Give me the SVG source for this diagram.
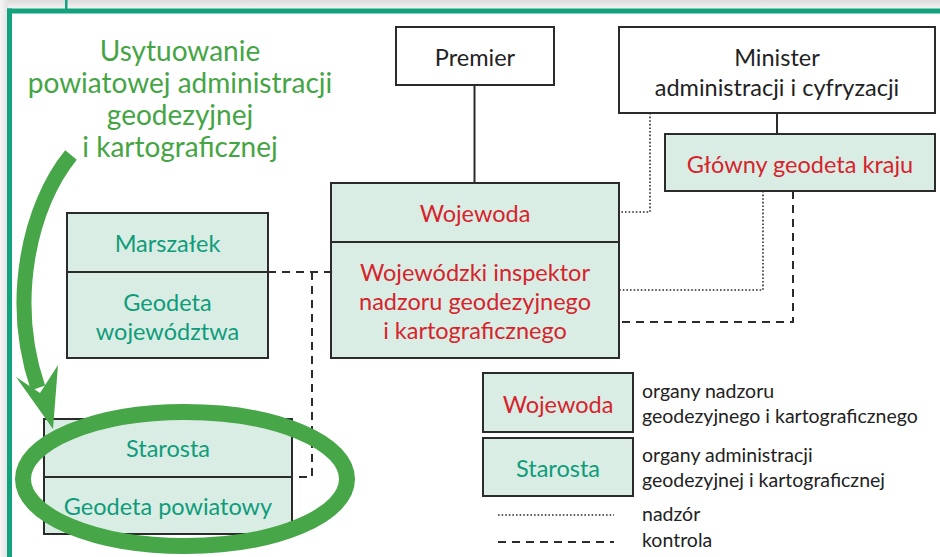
<svg xmlns="http://www.w3.org/2000/svg" width="940" height="557" viewBox="0 0 940 557">
<defs>
<linearGradient id="topg" x1="0" y1="0" x2="0" y2="1">
<stop offset="0" stop-color="#dcdcdc"/><stop offset="1" stop-color="#f4f4f4"/>
</linearGradient>
<linearGradient id="leftg" x1="0" y1="0" x2="1" y2="0">
<stop offset="0" stop-color="#f6f6f6"/><stop offset="1" stop-color="#e2e2e2"/>
</linearGradient>
<style>
text{font-family:Lato,"Noto Sans","Liberation Sans",sans-serif;text-anchor:middle}
.box{fill:#d9ede5;stroke:#2b2b2b;stroke-width:2}
.wbox{fill:#ffffff;stroke:#2b2b2b;stroke-width:2}
.div{stroke:#2b2b2b;stroke-width:2}
.red{fill:#d6232c;font-size:23.5px}
.teal{fill:#0e9c7a;font-size:23.5px}
.blk{fill:#222;font-size:23.5px}
.leg{fill:#222;font-size:19.5px;text-anchor:start}
.solid{stroke:#2b2b2b;stroke-width:2;fill:none}
.dot{stroke:#2b2b2b;stroke-width:1.6;fill:none;stroke-dasharray:1.6 2}
.dash{stroke:#2b2b2b;stroke-width:2;fill:none;stroke-dasharray:8 6}
.title{fill:#45a545;font-size:28px}
</style>
</defs>
<rect x="0" y="0" width="940" height="557" fill="#ffffff"/>
<rect x="0" y="0" width="940" height="9" fill="url(#topg)"/>
<rect x="0" y="0" width="8" height="557" fill="url(#leftg)"/>
<rect x="65" y="0" width="2.5" height="10" fill="#12a37e"/>
<rect x="7" y="8.5" width="933" height="5" fill="#12a37e"/>
<rect x="7" y="8.5" width="5" height="549" fill="#12a37e"/>

<g id="connectors">
<path class="solid" d="M474.5,85 V184"/>
<path class="solid" d="M777,112 V135"/>
<path class="dot" d="M650,113 V212 H619"/>
<path class="dot" d="M763,191 V290 H619"/>
<path class="dash" d="M793,191 V322 H619"/>
<path class="dash" d="M268,272 H331"/>
<path class="dash" d="M312,272 V477 H292"/>
</g>

<g id="premier">
<rect class="wbox" x="396" y="27" width="158" height="58"/>
<text class="blk" x="475" y="66">Premier</text>
</g>
<g id="minister">
<rect class="wbox" x="619" y="27" width="316" height="86"/>
<text class="blk" x="777" y="66">Minister</text>
<text class="blk" x="777" y="96">administracji i cyfryzacji</text>
</g>
<g id="glowny">
<rect class="box" x="665" y="134" width="270" height="57"/>
<text class="red" x="800" y="173">Główny geodeta kraju</text>
</g>
<g id="wojewoda">
<rect class="box" x="331" y="183" width="288" height="175"/>
<line class="div" x1="331" y1="242" x2="619" y2="242"/>
<text class="red" x="475" y="222">Wojewoda</text>
<text class="red" x="475" y="281">Wojewódzki inspektor</text>
<text class="red" x="475" y="310">nadzoru geodezyjnego</text>
<text class="red" x="475" y="339">i kartograficznego</text>
</g>
<g id="marszalek">
<rect class="box" x="67" y="213" width="201" height="145"/>
<line class="div" x1="67" y1="272" x2="268" y2="272"/>
<text class="teal" x="167.5" y="252">Marszałek</text>
<text class="teal" x="167.5" y="311">Geodeta</text>
<text class="teal" x="167.5" y="340">województwa</text>
</g>
<g id="starosta">
<rect class="box" x="44" y="419" width="248" height="115"/>
<line class="div" x1="44" y1="477" x2="292" y2="477"/>
<text class="teal" x="168" y="457">Starosta</text>
<text class="teal" x="168" y="515">Geodeta powiatowy</text>
</g>

<g id="title">
<text class="title" x="180" y="61">Usytuowanie</text>
<text class="title" x="180" y="93">powiatowej administracji</text>
<text class="title" x="180" y="125">geodezyjnej</text>
<text class="title" x="180" y="157">i kartograficznej</text>
</g>

<g id="highlight">
<path d="M71,155 C30,205 8,300 38,388" fill="none" stroke="#47a648" stroke-width="15"/>
<polygon points="16,377 40,393 58,365 53,429" fill="#47a648"/>
<ellipse cx="185" cy="479" rx="162" ry="67" fill="none" stroke="#47a648" stroke-width="16"/>
</g>

<g id="legend">
<rect class="box" x="483" y="373" width="150" height="59"/>
<text class="red" x="558" y="413">Wojewoda</text>
<rect class="box" x="483" y="438" width="150" height="58"/>
<text class="teal" x="558" y="477">Starosta</text>
<text class="leg" x="642" y="398">organy nadzoru</text>
<text class="leg" x="642" y="423">geodezyjnego i kartograficznego</text>
<text class="leg" x="642" y="462">organy administracji</text>
<text class="leg" x="642" y="487">geodezyjnej i kartograficznej</text>
<line class="dot" x1="498" y1="515" x2="614" y2="515"/>
<text class="leg" x="642" y="521">nadzór</text>
<line class="dash" x1="498" y1="542" x2="614" y2="542"/>
<text class="leg" x="642" y="547">kontrola</text>
</g>
</svg>
